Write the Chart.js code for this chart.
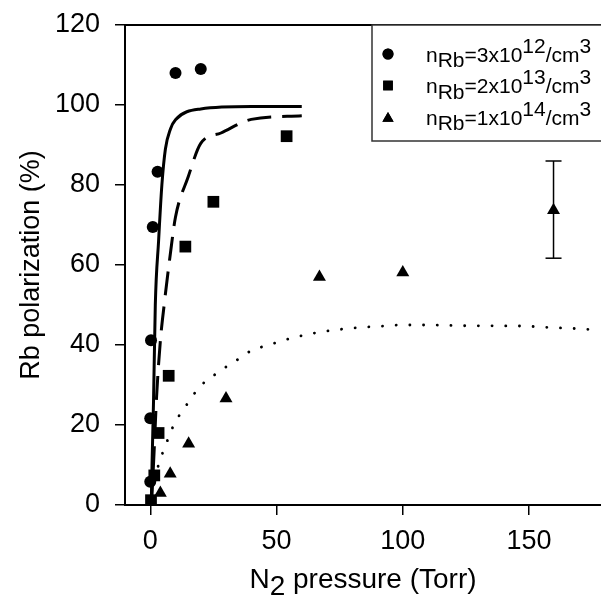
<!DOCTYPE html>
<html>
<head>
<meta charset="utf-8">
<script src="https://cdn.jsdelivr.net/npm/chart.js@4.4.0/dist/chart.umd.min.js"></script>
<style>
  html, body { margin: 0; padding: 0; background: #fff; }
  #wrap { width: 601px; height: 596px; }
</style>
</head>
<body>
<div id="wrap"><canvas id="rbChart" width="601" height="596"></canvas></div>
<script>
// tick labels
const xTicks = [0, 50, 100, 150];
const yTicks = [0, 20, 40, 60, 80, 100, 120];

// measured points, n_Rb = 3e12, 2e13, 1e14
const circleX = [0, 0, 0.3, 1, 2.9, 10, 20];
const circleY = [5.8, 21.7, 41.2, 69.5, 83.3, 108, 109];
const squareX = [0.3, 1.6, 3.3, 7.3, 13.9, 25, 54];
const squareY = [1.2, 7.4, 18, 32.3, 64.6, 75.8, 92.2];
const triangleX = [4, 7.9, 15.2, 30, 67, 100, 159.7];
const triangleY = [3, 7.8, 15.3, 26.6, 57, 58.1, 73.7];

// error bar on the last 1e14 point
const errX = [159.7, 159.7];
const errY = [61.7, 86];

// model curves
const solidX = [0.4, 0.7, 1.3, 2, 3.3, 4.6, 6, 8, 10, 20, 40, 60];
const solidY = [0, 10, 26, 50, 66, 80, 89, 94, 96.3, 99, 99.6, 99.6];
const dashX = [0.5, 1.5, 2.5, 4, 5.5, 8, 10, 15, 20, 28, 40, 60];
const dashY = [0, 13, 27, 41, 50, 63, 72, 82, 90.4, 93, 96.4, 97.3];
const dotX = [0.5, 2.9, 4.6, 6.6, 8.8, 11.6, 15.5, 19.3, 24.1, 29.5, 35, 40.3, 45.8, 51, 56.4, 62, 67, 72.5, 78, 83, 88.5, 94, 99, 110, 126, 147, 155, 161, 166, 171, 178];
const dotY = [3, 9.2, 12.5, 15.8, 19.3, 22.5, 26, 29.4, 31.9, 34.3, 36.5, 38.7, 39.8, 40.8, 41.8, 42.6, 43.2, 43.7, 44.1, 44.4, 44.6, 44.8, 45, 45, 44.8, 44.75, 44.5, 44.3, 44.2, 44, 43.8];

// legend: n_Rb = mantissa x 10^exp /cm^3
const legendMantissa = [3, 2, 1];
const legendExp = [12, 13, 14];
const legendStyles = ["circle", "rect", "triangle"];

const FONT = "'Liberation Sans', Arial, sans-serif";
const zip = (xs, ys) => xs.map((x, i) => ({ x, y: ys[i] }));

Chart.defaults.font.family = FONT;
Chart.defaults.color = "#000";

// draws a run of text pieces, each with a vertical shift (sub/superscript)
const drawPieces = (ctx, pieces, x, y) => {
  pieces.forEach(([txt, dy]) => {
    ctx.fillText(txt, x, y + dy);
    x += ctx.measureText(txt).width;
  });
};

const framePlugin = {
  id: "frame",
  beforeDatasetsDraw(chart) {
    const { ctx, chartArea } = chart;
    ctx.save();
    ctx.strokeStyle = "#000";
    ctx.lineWidth = 2;
    ctx.beginPath();
    ctx.moveTo(chartArea.left, chartArea.top);
    ctx.lineTo(chartArea.right, chartArea.top);
    ctx.stroke();
    ctx.restore();
  },
  afterDraw(chart) {
    const { ctx, chartArea } = chart;
    ctx.save();
    ctx.fillStyle = "#000";
    ctx.textBaseline = "alphabetic";

    // x title with subscript
    ctx.font = "28px " + FONT;
    const xPieces = [["N", 0], ["2", 6.5], [" pressure (Torr)", 0]];
    const w = xPieces.reduce((s, p) => s + ctx.measureText(p[0]).width, 0);
    drawPieces(ctx, xPieces, (chartArea.left + chartArea.right) / 2 - w / 2, 588);

    // y title
    ctx.font = "27px " + FONT;
    ctx.save();
    ctx.translate(39, (chartArea.top + chartArea.bottom) / 2);
    ctx.rotate(-Math.PI / 2);
    ctx.textAlign = "center";
    ctx.fillText("Rb polarization (%)", 0, 0);
    ctx.restore();

    // legend box
    ctx.strokeStyle = "#333";
    ctx.lineWidth = 1.5;
    ctx.fillStyle = "#fff";
    ctx.beginPath();
    ctx.rect(372, chartArea.top, 240, 116);
    ctx.fill();
    ctx.stroke();

    ctx.fillStyle = "#000";
    ctx.font = "21px " + FONT;
    legendMantissa.forEach((m, i) => {
      const cy = 54 + i * 31.5;
      const r = legendStyles[i] === "circle" ? 5.5 : legendStyles[i] === "rect" ? 6.8 : 6.5;
      Chart.helpers.drawPoint(ctx, { pointStyle: legendStyles[i], radius: r, rotation: 0, borderWidth: 0 }, 388, cy + (legendStyles[i] === "triangle" ? 1.5 : 0));
      ctx.fill();
      drawPieces(ctx, [["n", 0], ["Rb", 5.5], ["=" + m + "x10", 0], [String(legendExp[i]), -9], ["/cm", 0], ["3", -9]], 426, cy + 7.5);
    });
    ctx.restore();
  },
};

const curve = (xs, ys, dash, width) => ({
  data: zip(xs, ys),
  showLine: true,
  pointRadius: 0,
  borderColor: "#000",
  borderWidth: width,
  borderDash: dash,
  borderCapStyle: dash.length && dash[0] < 1 ? "round" : "butt",
  cubicInterpolationMode: "monotone",
  fill: false,
});

const marks = (xs, ys, style, r) => ({
  data: zip(xs, ys),
  showLine: false,
  pointStyle: style,
  pointRadius: r,
  pointBackgroundColor: "#000",
  pointBorderColor: "#000",
  pointBorderWidth: 0,
});

// drop the label-overflow padding so the plot area is exactly the layout padding
const noPad = (s) => { s.paddingLeft = 0; s.paddingRight = 0; s.paddingTop = 0; s.paddingBottom = 0; };

new Chart(document.getElementById("rbChart").getContext("2d"), {
  type: "scatter",
  data: {
    datasets: [
      curve(solidX, solidY, [], 3),
      curve(dashX, dashY, [24, 11], 3),
      curve(dotX, dotY, [0.1, 13.6], 2.8),
      {
        data: zip(errX, errY),
        showLine: true,
        borderColor: "#000",
        borderWidth: 1.5,
        pointStyle: "line",
        pointRadius: 8,
        pointBorderColor: "#000",
        pointBorderWidth: 1.5,
      },
      marks(circleX, circleY, "circle", 6),
      marks(squareX, squareY, "rect", 8.3),
      marks(triangleX, triangleY, "triangle", 7.5),
    ],
  },
  options: {
    responsive: false,
    animation: false,
    layout: { autoPadding: false, padding: { top: 25, left: 0, right: 0, bottom: 0 } },
    plugins: { legend: { display: false }, tooltip: { enabled: false } },
    scales: {
      x: {
        type: "linear",
        min: -10,
        max: 178.5,
        afterBuildTicks: (s) => { s.ticks = xTicks.map((v) => ({ value: v })); },
        afterFit: (s) => { s.height = 91; noPad(s); },
        grid: { drawOnChartArea: false, drawTicks: true, tickLength: 10, color: "#000", lineWidth: 1.5 },
        border: { display: true, color: "#000", width: 2 },
        ticks: { color: "#000", font: { size: 27 }, padding: 10, maxRotation: 0 },
      },
      y: {
        min: 0,
        max: 120,
        afterBuildTicks: (s) => { s.ticks = yTicks.map((v) => ({ value: v })); },
        afterFit: (s) => { s.width = 125; noPad(s); },
        grid: { drawOnChartArea: false, drawTicks: true, tickLength: 10, color: "#000", lineWidth: 1.5 },
        border: { display: true, color: "#000", width: 2 },
        ticks: { color: "#000", font: { size: 27 }, padding: 15 },
      },
    },
  },
  plugins: [framePlugin],
});
</script>
</body>
</html>
